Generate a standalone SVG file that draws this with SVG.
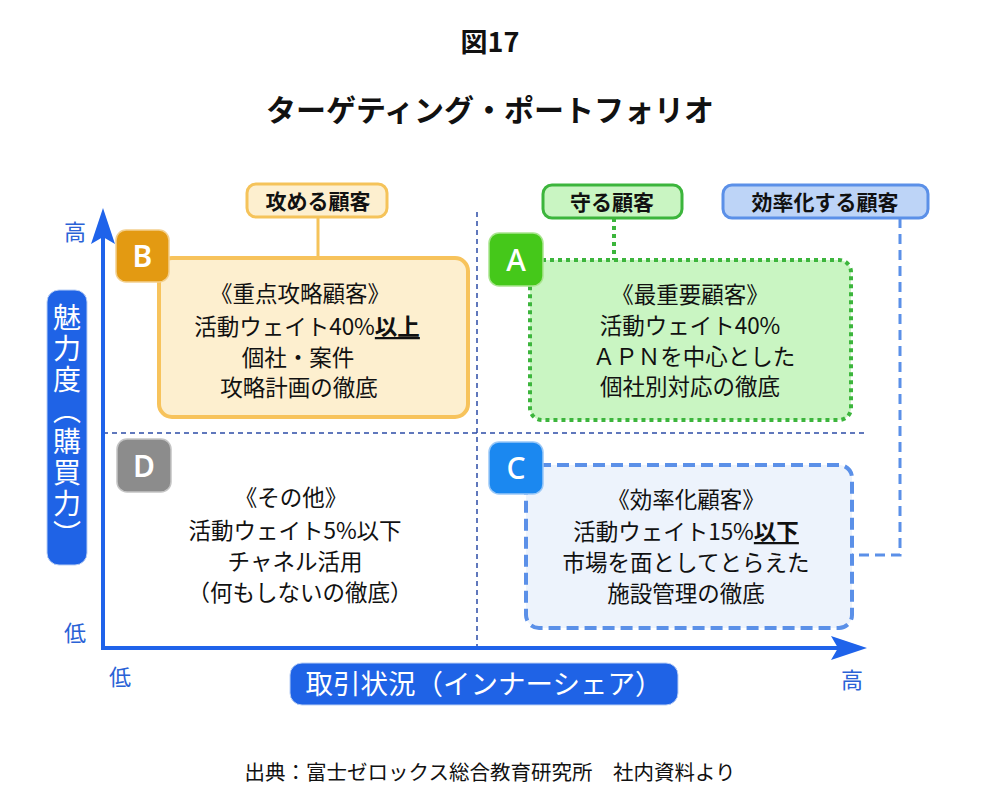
<svg xmlns="http://www.w3.org/2000/svg" width="1000" height="803" viewBox="0 0 1000 803">
<style>
text{font-family:"Noto Sans CJK JP","Noto Sans",sans-serif;fill:#111}
.title{font-weight:700;text-anchor:middle}
.body{font-size:22.5px;text-anchor:middle}
.lbl{font-size:21px;font-weight:700;text-anchor:middle}
.badge{font-family:"Noto Sans","DejaVu Sans",sans-serif;font-size:30px;font-weight:600;fill:#fff;text-anchor:middle}
.axt{font-size:22px;fill:#2a62d6;text-anchor:middle}
.div{stroke:#2c4ca6;stroke-width:1.5;stroke-dasharray:5 4;fill:none}
.u{font-weight:700;text-decoration:underline}
</style>
<defs>
<marker id="arr" markerUnits="userSpaceOnUse" markerWidth="36" markerHeight="24" viewBox="0 0 36 24" refX="28" refY="12" orient="auto">
<path d="M0,0 L36,12 L0,24 L7,12 z" fill="#1f63ea"/>
</marker>
</defs>
<rect width="1000" height="803" fill="#fff"/>

<g id="title">
<text class="title" x="490" y="52" font-size="27">図17</text>
<text class="title" x="490" y="121" font-size="30">ターゲティング・ポートフォリオ</text>
</g>

<g id="connectors">
<line class="div" x1="477" y1="212" x2="477" y2="648"/>
<line class="div" x1="103" y1="433" x2="866" y2="433"/>
<line x1="318" y1="217" x2="318" y2="258" stroke="#f5c35a" stroke-width="3"/>
<line x1="614" y1="218" x2="614" y2="260" stroke="#3cb53c" stroke-width="4" stroke-dasharray="4 4"/>
<polyline points="900,218 900,555 852,555" fill="none" stroke="#5b90e8" stroke-width="3" stroke-dasharray="10 6"/>
<line x1="103" y1="650" x2="103" y2="216" stroke="#1f63ea" stroke-width="4" marker-end="url(#arr)"/>
<line x1="101" y1="648" x2="859" y2="648" stroke="#1f63ea" stroke-width="4" marker-end="url(#arr)"/>
</g>

<g id="axis-labels">
<text class="axt" x="75" y="240">高</text>
<text class="axt" x="75" y="641">低</text>
<text class="axt" x="120" y="685">低</text>
<text class="axt" x="852" y="688">高</text>
</g>

<g id="y-label">
<rect x="47" y="290" width="40" height="275" rx="12" fill="#1f63e6" stroke="#b9cff5" stroke-width="1"/>
<text x="67" y="427" font-size="28" fill="#fff" style="fill:#fff;writing-mode:vertical-rl;text-anchor:middle;letter-spacing:3px">魅力度（購買力）</text>
</g>

<g id="x-label">
<rect x="290" y="663" width="388" height="42" rx="12" fill="#1f63e6" stroke="#b9cff5" stroke-width="1"/>
<text x="484" y="694" font-size="27.5" text-anchor="middle" style="fill:#fff">取引状況（インナーシェア）</text>
</g>

<g id="label-B">
<rect x="247" y="184" width="140" height="33" rx="9" fill="#fdefcf" stroke="#f5c35a" stroke-width="3"/>
<text class="lbl" x="318" y="209">攻める顧客</text>
</g>
<g id="label-A">
<rect x="543" y="185" width="139" height="33" rx="9" fill="#c9f5c2" stroke="#3cb53c" stroke-width="3"/>
<text class="lbl" x="612" y="210">守る顧客</text>
</g>
<g id="label-C">
<rect x="723" y="185" width="205" height="33" rx="9" fill="#bdd4f7" stroke="#5b90e8" stroke-width="3"/>
<text class="lbl" x="825" y="210">効率化する顧客</text>
</g>

<g id="node-B">
<rect x="159" y="258" width="309" height="159" rx="13" fill="#fdefcf" stroke="#f7c35c" stroke-width="4"/>
<rect x="116" y="230" width="53" height="52" rx="10" fill="#e39a12" stroke="#f3d08e" stroke-width="1.5"/>
<text class="badge" x="142.5" y="267">B</text>
<text class="body" x="300" y="302">《重点攻略顧客》</text>
<text class="body" x="307" y="335">活動ウェイト40%<tspan class="u">以上</tspan></text>
<text class="body" x="298" y="366">個社・案件</text>
<text class="body" x="299" y="396">攻略計画の徹底</text>
</g>

<g id="node-A">
<rect x="530" y="260" width="321" height="160" rx="12" fill="#c9f5c2" stroke="#3cb53c" stroke-width="4" stroke-dasharray="4 4"/>
<rect x="489" y="233" width="54" height="53" rx="10" fill="#45c81a" stroke="#a9e58f" stroke-width="1.5"/>
<text class="badge" x="516" y="271" style="font-weight:500">A</text>
<text class="body" x="690" y="303">《最重要顧客》</text>
<text class="body" x="690" y="334">活動ウェイト40%</text>
<text class="body" x="694" y="365">ＡＰＮを中心とした</text>
<text class="body" x="690" y="395">個社別対応の徹底</text>
</g>

<g id="node-C">
<rect x="526" y="465" width="326" height="163" rx="13" fill="#edf3fc" stroke="#5b90e8" stroke-width="4" stroke-dasharray="12 6"/>
<rect x="489" y="442" width="54" height="52" rx="10" fill="#1b88f0" stroke="#9ac8f7" stroke-width="1.5"/>
<text class="badge" x="516" y="479" style="font-weight:500">C</text>
<text class="body" x="686" y="508">《効率化顧客》</text>
<text class="body" x="686" y="540">活動ウェイト15%<tspan class="u">以下</tspan></text>
<text class="body" x="686" y="571">市場を面としてとらえた</text>
<text class="body" x="686" y="602">施設管理の徹底</text>
</g>

<g id="node-D">
<rect x="117" y="439" width="54" height="53" rx="10" fill="#8c8c8c" stroke="#c4c4c4" stroke-width="1.5"/>
<text class="badge" x="144" y="477">D</text>
<text class="body" x="291" y="506">《その他》</text>
<text class="body" x="295" y="539">活動ウェイト5%以下</text>
<text class="body" x="295" y="570">チャネル活用</text>
<text class="body" x="300" y="601">（何もしないの徹底）</text>
</g>

<g id="footer">
<text x="490" y="780" font-size="20.5" text-anchor="middle">出典：富士ゼロックス総合教育研究所　社内資料より</text>
</g>
</svg>
